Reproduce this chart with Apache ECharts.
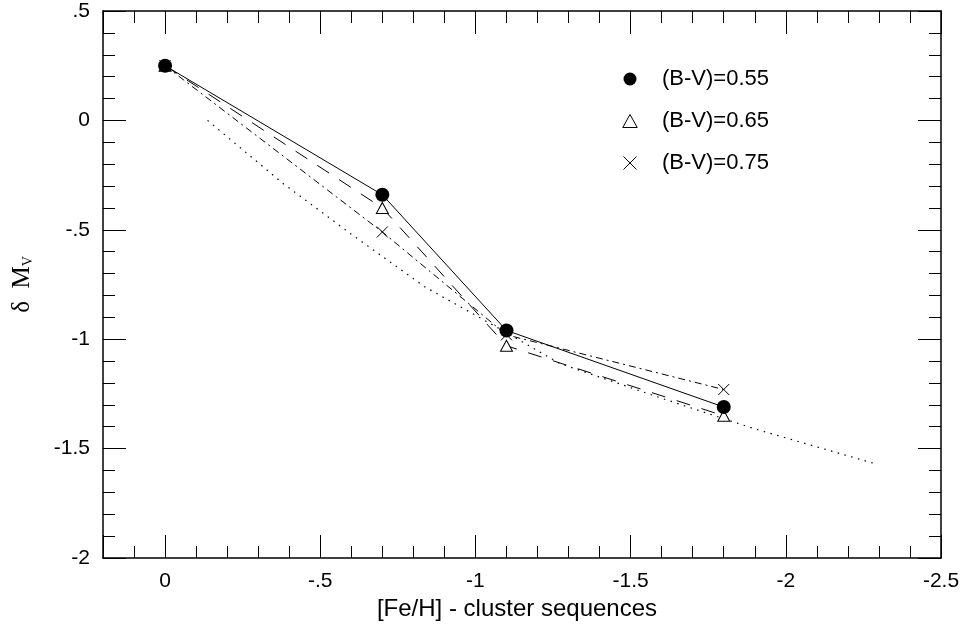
<!DOCTYPE html>
<html>
<head>
<meta charset="utf-8">
<script src="https://cdn.jsdelivr.net/npm/echarts@6/dist/echarts.min.js"></script>
<style>
html,body{margin:0;padding:0;background:#fff;}
#chart{width:967px;height:639px;}
</style>
</head>
<body>
<div id="chart"></div>
<script>
// ---- data ----
const feh = [0, -0.7, -1.1, -1.8];
const bv055 = [0.25, -0.34, -0.96, -1.31];
const bv065 = [0.25, -0.40, -1.03, -1.35];
const bv075 = [0.25, -0.51, -0.98, -1.23];
const refFeh = [-0.137, -0.378, -0.6, -0.836, -1.1, -1.27, -1.6, -1.9, -2.29];
const refMv  = [0.0, -0.286, -0.52, -0.76, -0.97, -1.11, -1.27, -1.41, -1.57];
const seriesNames = ['(B-V)=0.55', '(B-V)=0.65', '(B-V)=0.75'];
const xTickValues = [0, -0.5, -1, -1.5, -2, -2.5];
const xTickLabels = ['0', '-.5', '-1', '-1.5', '-2', '-2.5'];
const yTickValues = [0.5, 0, -0.5, -1, -1.5, -2];
const yTickLabels = ['.5', '0', '-.5', '-1', '-1.5', '-2'];

const zip = (a, b) => a.map((v, i) => [v, b[i]]);
const lookup = (vals, labels) => v => {
  for (let i = 0; i < vals.length; i++) if (Math.abs(vals[i] - v) < 1e-6) return labels[i];
  return '';
};
const FONT = 'Liberation Sans';
const XMARK = 'path://M0,0L10,10M0,10L10,0';
const TRI = 'path://M5,0L10,9L0,9Z';

const tickCommon = {
  axisLine: {show: true, onZero: false, lineStyle: {color: '#000', width: 1.5}},
  axisTick: {show: true, inside: true, length: 23, lineStyle: {color: '#000', width: 1}},
  minorTick: {show: true, splitNumber: 5, length: 12, lineStyle: {color: '#000', width: 1}},
  splitLine: {show: false},
  minorSplitLine: {show: false}
};

const chart = echarts.init(document.getElementById('chart'), null, {renderer: 'canvas'});
chart.setOption({
  animation: false,
  backgroundColor: '#fff',
  grid: {left: 103, right: 26, top: 11, bottom: 81, containLabel: false},
  xAxis: [
    Object.assign({
      type: 'value', position: 'bottom', min: -2.5, max: 0.2, interval: 0.5, inverse: true,
      axisLabel: {formatter: lookup(xTickValues, xTickLabels), fontSize: 21, color: '#000', fontFamily: FONT, margin: 13,
                  showMinLabel: true, showMaxLabel: true},
      name: '[Fe/H] - cluster sequences', nameLocation: 'middle', nameGap: 37,
      nameTextStyle: {fontSize: 24, color: '#000', fontFamily: FONT, padding: [0, 10, 0, 0]}
    }, tickCommon),
    Object.assign({
      type: 'value', position: 'top', min: -2.5, max: 0.2, interval: 0.5, inverse: true,
      axisLabel: {show: false}
    }, tickCommon)
  ],
  yAxis: [
    Object.assign({
      type: 'value', position: 'left', min: -2, max: 0.5, interval: 0.5,
      axisLabel: {formatter: lookup(yTickValues, yTickLabels), fontSize: 21, color: '#000', fontFamily: FONT, margin: 13},
      name: '{g|δ  M}{s|V}', nameLocation: 'middle', nameGap: 68,
      nameTextStyle: {
        color: '#000',
        rich: {
          g: {fontFamily: 'Liberation Serif', fontSize: 25, color: '#000', verticalAlign: 'bottom', lineHeight: 26},
          s: {fontFamily: 'Liberation Serif', fontSize: 14, color: '#000', verticalAlign: 'bottom', lineHeight: 14}
        }
      }
    }, tickCommon),
    Object.assign({
      type: 'value', position: 'right', min: -2, max: 0.5, interval: 0.5,
      axisLabel: {show: false}
    }, tickCommon)
  ],
  legend: {
    orient: 'vertical', left: 621, top: 68, padding: 0,
    itemWidth: 54, itemHeight: 13, itemGap: 20, symbolKeepAspect: true,
    selectedMode: false,
    textStyle: {fontSize: 22, fontFamily: FONT, color: '#000'},
    data: [
      {name: seriesNames[0], icon: 'circle', itemStyle: {color: '#000', borderWidth: 0}},
      {name: seriesNames[1], icon: TRI, itemStyle: {color: '#fff', borderColor: '#000', borderWidth: 1}},
      {name: seriesNames[2], icon: XMARK, itemStyle: {color: 'none', borderColor: '#000', borderWidth: 1}}
    ]
  },
  series: [
    {
      type: 'line', name: 'reference', data: zip(refFeh, refMv), symbol: 'none', silent: true,
      lineStyle: {color: '#000', width: 1.2, type: [1.5, 5.5]}, z: 1
    },
    {
      type: 'line', name: seriesNames[2], data: zip(feh, bv075),
      symbol: XMARK, symbolSize: 11, silent: true,
      itemStyle: {color: 'none', borderColor: '#000', borderWidth: 1},
      lineStyle: {color: '#000', width: 1, type: [7, 4, 2, 4]}, z: 2
    },
    {
      type: 'line', name: seriesNames[1], data: zip(feh, bv065),
      symbol: 'triangle', symbolSize: [12, 11], silent: true,
      itemStyle: {color: '#fff', borderColor: '#000', borderWidth: 1},
      lineStyle: {color: '#000', width: 1, type: [14, 12]}, z: 3
    },
    {
      type: 'line', name: seriesNames[0], data: zip(feh, bv055),
      symbol: 'circle', symbolSize: 14, silent: true,
      itemStyle: {color: '#000', borderWidth: 0},
      lineStyle: {color: '#000', width: 1, type: 'solid'}, z: 4
    }
  ]
});
</script>
</body>
</html>
